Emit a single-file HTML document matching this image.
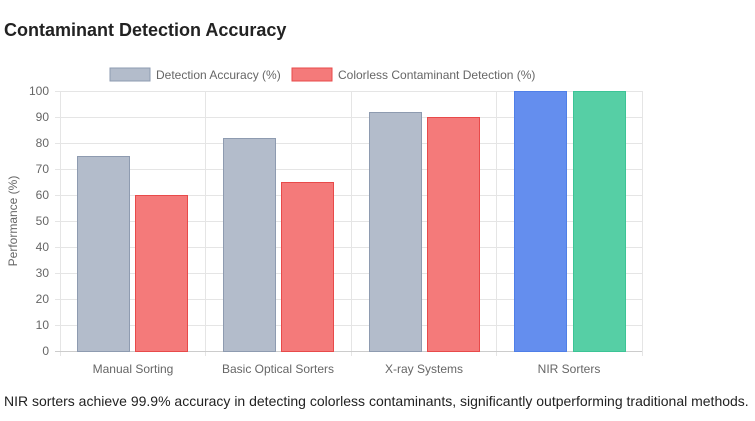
<!DOCTYPE html>
<html><head><style>
body{margin:0;background:#fff;width:755px;height:416px;overflow:hidden;font-family:"Liberation Sans",Arial,sans-serif}
</style></head><body>
<svg width="755" height="416" xmlns="http://www.w3.org/2000/svg" font-family="Liberation Sans, Arial, sans-serif">
<text x="4" y="36" font-size="18" font-weight="bold" fill="#222">Contaminant Detection Accuracy</text>
<rect x="110" y="68" width="40" height="13" fill="#b3bccb" stroke="#8e9bb0"/>
<text x="156" y="79" font-size="12" fill="#666">Detection Accuracy (%)</text>
<rect x="292" y="68" width="40" height="13" fill="#f47a7a" stroke="#e84a4a"/>
<text x="338" y="79" font-size="12" fill="#666">Colorless Contaminant Detection (%)</text>
<g stroke="#e5e5e5" stroke-width="1">
<line x1="55" y1="91.5" x2="642" y2="91.5"/><line x1="55" y1="117.5" x2="642" y2="117.5"/><line x1="55" y1="143.5" x2="642" y2="143.5"/><line x1="55" y1="169.5" x2="642" y2="169.5"/><line x1="55" y1="195.5" x2="642" y2="195.5"/><line x1="55" y1="221.5" x2="642" y2="221.5"/><line x1="55" y1="247.5" x2="642" y2="247.5"/><line x1="55" y1="273.5" x2="642" y2="273.5"/><line x1="55" y1="299.5" x2="642" y2="299.5"/><line x1="55" y1="325.5" x2="642" y2="325.5"/>
<line x1="60.5" y1="91" x2="60.5" y2="356"/><line x1="205.5" y1="91" x2="205.5" y2="356"/><line x1="351.5" y1="91" x2="351.5" y2="356"/><line x1="496.5" y1="91" x2="496.5" y2="356"/><line x1="642.5" y1="91" x2="642.5" y2="356"/>
</g>
<line x1="55" y1="351.5" x2="642" y2="351.5" stroke="#ccc"/>
<g font-size="12" fill="#666" text-anchor="end">
<text x="49" y="95">100</text><text x="49" y="121">90</text><text x="49" y="147">80</text><text x="49" y="173">70</text><text x="49" y="199">60</text><text x="49" y="225">50</text><text x="49" y="251">40</text><text x="49" y="277">30</text><text x="49" y="303">20</text><text x="49" y="329">10</text><text x="49" y="355">0</text>
</g>
<text transform="translate(17,221) rotate(-90)" font-size="12" fill="#666" text-anchor="middle">Performance (%)</text>
<g stroke-width="1">
<rect x="77.5" y="156.5" width="52" height="195" fill="#b3bccb" stroke="#8e9bb0"/>
<rect x="135.5" y="195.5" width="52" height="156" fill="#f47a7a" stroke="#e84a4a"/>
<rect x="223.5" y="138.5" width="52" height="213" fill="#b3bccb" stroke="#8e9bb0"/>
<rect x="281.5" y="182.5" width="52" height="169" fill="#f47a7a" stroke="#e84a4a"/>
<rect x="369.5" y="112.5" width="52" height="239" fill="#b3bccb" stroke="#8e9bb0"/>
<rect x="427.5" y="117.5" width="52" height="234" fill="#f47a7a" stroke="#e84a4a"/>
<rect x="514.5" y="91.5" width="52" height="260" fill="#648eee" stroke="#4f7fe8"/>
<rect x="573.5" y="91.5" width="52" height="260" fill="#56cfa5" stroke="#3cc496"/>
</g>
<g font-size="12" fill="#666" text-anchor="middle">
<text x="133" y="373">Manual Sorting</text><text x="278" y="373">Basic Optical Sorters</text><text x="424" y="373">X-ray Systems</text><text x="569" y="373">NIR Sorters</text>
</g>
<text x="4" y="406" font-size="14" fill="#222">NIR sorters achieve 99.9% accuracy in detecting colorless contaminants, significantly outperforming traditional methods.</text>
</svg>
</body></html>
